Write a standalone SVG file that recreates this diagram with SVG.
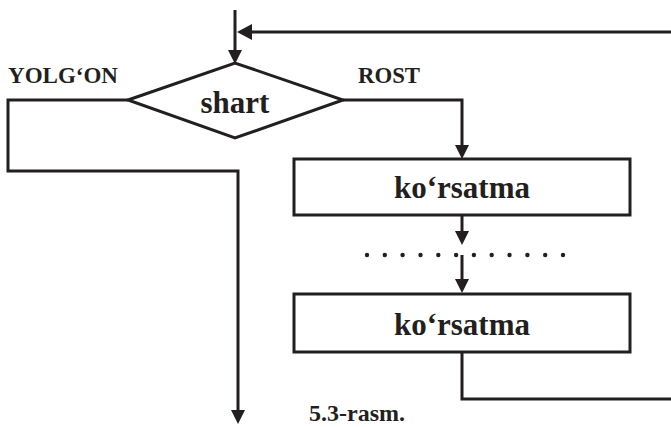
<svg xmlns="http://www.w3.org/2000/svg" width="671" height="427" viewBox="0 0 671 427">
<style>
.ln{fill:none;stroke:#231f20;stroke-width:3;}
.nd{fill:#fff;stroke:#231f20;stroke-width:3;}
.t{font-family:"Liberation Serif","Times New Roman",serif;font-weight:bold;fill:#231f20;}
.ah{fill:#231f20;}
</style>
<rect width="671" height="427" fill="#fff"/>
<g id="connectors">
<path class="ln" d="M235,10 V52"/>
<polygon class="ah" points="228,50 242,50 235,64"/>
<path class="ln" d="M671,32 H250"/>
<polygon class="ah" points="252,24 252,40 237,32"/>
<path class="ln" d="M128,100 H8 V171 H238 V412"/>
<polygon class="ah" points="231,410 245,410 238,424"/>
<path class="ln" d="M343,100 H462 V147"/>
<polygon class="ah" points="455,145 469,145 462,159"/>
<path class="ln" d="M462,215 V233"/>
<polygon class="ah" points="455,231 469,231 462,245"/>
<path class="ln" d="M462,255 V281"/>
<polygon class="ah" points="455,279 469,279 462,293"/>
<path class="ln" d="M462,352 V399 H671"/>
<g class="ah">
<circle cx="367" cy="255" r="2.2"/><circle cx="384.8" cy="255" r="2.2"/><circle cx="402.6" cy="255" r="2.2"/><circle cx="420.5" cy="255" r="2.2"/><circle cx="438.3" cy="255" r="2.2"/><circle cx="456.1" cy="255" r="2.2"/><circle cx="473.9" cy="255" r="2.2"/><circle cx="491.7" cy="255" r="2.2"/><circle cx="509.5" cy="255" r="2.2"/><circle cx="527.4" cy="255" r="2.2"/><circle cx="545.2" cy="255" r="2.2"/><circle cx="563" cy="255" r="2.2"/>
</g>
<text class="t" x="8" y="83" font-size="23" textLength="110" lengthAdjust="spacingAndGlyphs">YOLG‘ON</text>
<text class="t" x="358" y="83" font-size="23" textLength="62" lengthAdjust="spacingAndGlyphs">ROST</text>
</g>
<g id="decision">
<polygon class="nd" points="128,100 235,63 343,100 235,138"/>
<text class="t" x="235" y="113" font-size="31" text-anchor="middle">shart</text>
</g>
<g id="box1">
<rect class="nd" x="294" y="159" width="336" height="56"/>
<text class="t" x="462" y="198" font-size="31" text-anchor="middle">ko‘rsatma</text>
</g>
<g id="box2">
<rect class="nd" x="294" y="294" width="336" height="58"/>
<text class="t" x="462" y="335" font-size="31" text-anchor="middle">ko‘rsatma</text>
</g>
<text class="t" x="309" y="421" font-size="24" textLength="96" lengthAdjust="spacingAndGlyphs">5.3-rasm.</text>
</svg>
